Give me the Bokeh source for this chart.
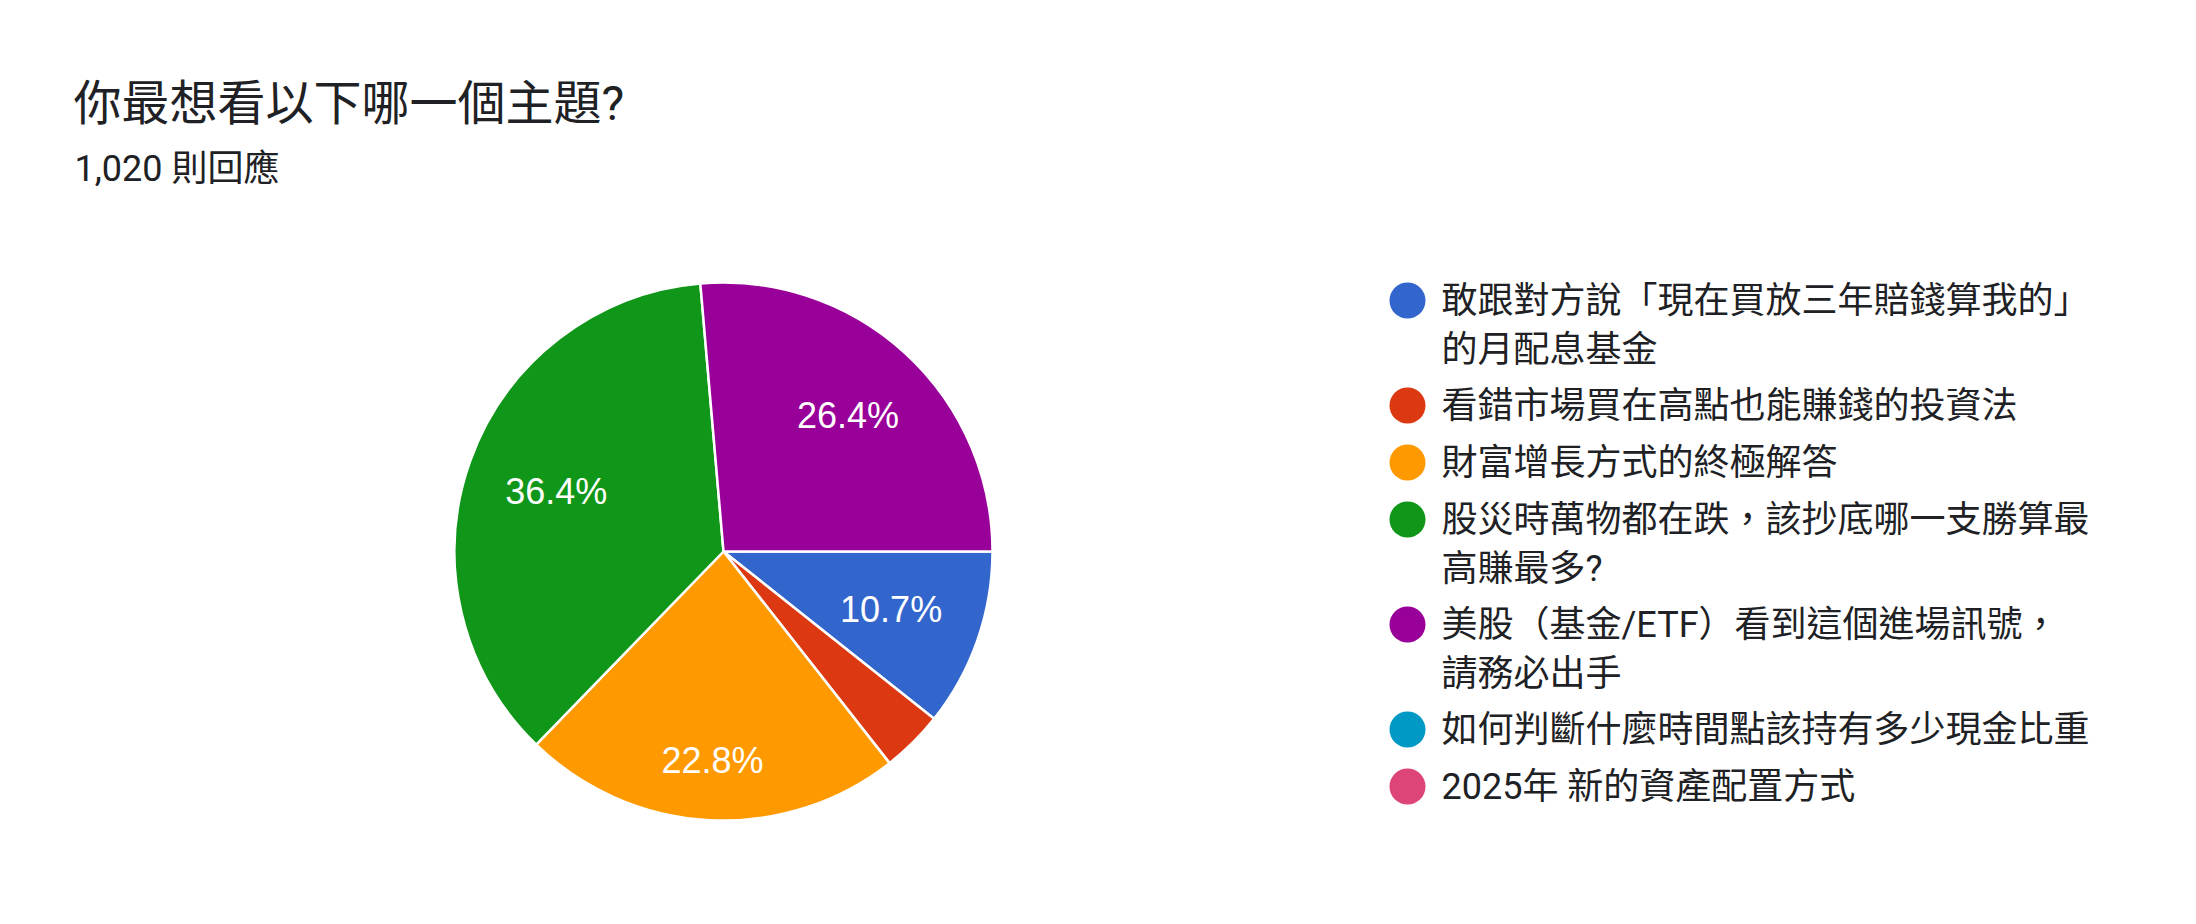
import math
from bokeh.plotting import figure
from bokeh.models import ColumnDataSource, Label, Range1d
from bokeh.core.properties import value
from bokeh.embed import file_html
from bokeh.resources import INLINE

# data (1,020 responses)
categories = [
    "敢跟對方說「現在買放三年賠錢算我的」\n的月配息基金",
    "看錯市場買在高點也能賺錢的投資法",
    "財富增長方式的終極解答",
    "股災時萬物都在跌，該抄底哪一支勝算最\n高賺最多?",
    "美股（基金/ETF）看到這個進場訊號，\n請務必出手",
    "如何判斷什麼時間點該持有多少現金比重",
    "2025年 新的資產配置方式",
]
counts = [109, 38, 233, 371, 269, 0, 0]
colors = ["#3366cc", "#dc3912", "#ff9900", "#109618", "#990099", "#0099c6", "#dd4477"]

title_text = "你最想看以下哪一個主題?"
total = sum(counts)
subtitle_text = f"{total:,} 則回應"

W, H = 2180, 904
CJK = "Roboto, 'Noto Sans CJK TC', sans-serif"
INK = "#202124"


def X(px):
    # picture pixel -> data x
    return px


def Y(py):
    # picture pixel -> data y
    return H - py


p = figure(width=W, height=H, x_range=Range1d(0, W), y_range=Range1d(0, H),
           x_axis_type=None, y_axis_type=None, toolbar_location=None,
           output_backend="svg", min_border=0)
p.grid.visible = False
p.outline_line_color = None
p.background_fill_color = "white"

# pie
cx, cy, r = X(723), Y(551), 269
starts, ends, fills, lab_x, lab_y, lab_t = [], [], [], [], [], []
cum = 0.0
for c, col in zip(counts, colors):
    f0 = cum / total
    cum += c
    f1 = cum / total
    if c == 0:
        continue
    starts.append(-f0 * 2 * math.pi)
    ends.append(-f1 * 2 * math.pi)
    fills.append(col)
    frac = c / total
    if frac >= 0.05:
        mid = (f0 + f1) * math.pi
        ux, uy = math.cos(mid), math.sin(mid)
        # text box's outer corner sits on a circle of ~0.85 r
        hw, hh, R = 51, 13, 0.855 * r
        b = abs(ux) * hw + abs(uy) * hh
        d = -b + math.sqrt(b * b - (hw * hw + hh * hh - R * R))
        lab_x.append(cx + d * ux)
        lab_y.append(cy - d * uy)
        lab_t.append(f"{frac * 100:.1f}%")

wedges = ColumnDataSource(data=dict(start=starts, end=ends, fill=fills))
p.wedge(x=cx, y=cy, radius=r, start_angle="start", end_angle="end",
        direction="clock", fill_color="fill", line_color="white",
        line_width=2.5, source=wedges)

pct = ColumnDataSource(data=dict(x=lab_x, y=lab_y, t=lab_t))
p.text(x="x", y="y", text="t", source=pct, text_color="white",
       text_font=value("Liberation Sans"), text_font_size="36px",
       text_align="center", text_baseline="middle")

# legend
dot_x, dot_y, dot_c = [], [], []
line_x, line_y, line_t = [], [], []
row_y = 300
for cat, col in zip(categories, colors):
    parts = cat.split("\n")
    dot_x.append(X(1407))
    dot_y.append(Y(row_y))
    dot_c.append(col)
    for k, part in enumerate(parts):
        line_x.append(X(1441))
        line_y.append(Y(row_y + 49 * k))
        line_t.append(part)
    row_y += 57 + 48 * (len(parts) - 1)

dots = ColumnDataSource(data=dict(x=dot_x, y=dot_y, c=dot_c))
p.scatter(x="x", y="y", size=36, fill_color="c", line_color=None, source=dots)

lines = ColumnDataSource(data=dict(x=line_x, y=line_y, t=line_t))
p.text(x="x", y="y", text="t", source=lines, text_color=INK,
       text_font=value(CJK), text_font_size="36px",
       text_align="left", text_baseline="middle")

# title + response count
p.add_layout(Label(x=X(73), y=Y(103), text=title_text, text_font=CJK,
                   text_font_size="48px", text_color=INK,
                   text_baseline="middle"))
p.add_layout(Label(x=X(74), y=Y(168), text=subtitle_text, text_font=CJK,
                   text_font_size="36px", text_color=INK,
                   text_baseline="middle"))

open("out.html", "w").write(file_html(p, INLINE))
